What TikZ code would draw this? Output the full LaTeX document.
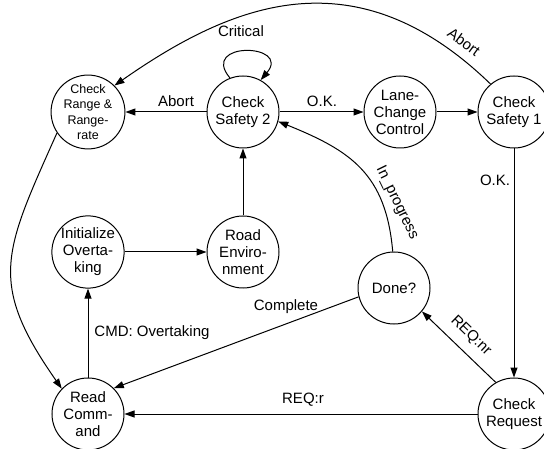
\documentclass[tikz,border=0pt]{standalone}
\usepackage{fontspec}
\setmainfont{Liberation Sans}
\usetikzlibrary{arrows.meta}
\begin{document}
\begin{tikzpicture}[x=1pt,y=1pt,
  st/.style={circle, draw, line width=1pt, minimum size=72pt, inner sep=0pt, align=center, font=\fontsize{15}{17}\selectfont},
  stsmall/.style={st, font=\fontsize{12.5}{15.5}\selectfont},
  lbl/.style={font=\fontsize{15}{17}\selectfont, inner sep=0pt},
  arr/.style={line width=1pt, -{Triangle[length=10pt,width=7pt]}}]
\useasboundingbox (0,0) rectangle (544,-449);
\node[stsmall] (CR) at (88,-112) {Check\\Range \&\\Range-\\rate};
\node[st] (CS2) at (243,-112) {Check\\Safety 2};
\node[st] (LCC) at (400,-112) {Lane-\\Change\\Control};
\node[st] (CS1) at (514,-112) {Check\\Safety 1};
\node[st] (INIT) at (88,-252) {Initialize\\Overta-\\king};
\node[st] (ROAD) at (243,-252) {Road\\Enviro-\\nment};
\node[st] (DONE) at (394,-288) {Done?};
\node[st] (RC) at (88,-414) {Read\\Comm-\\and};
\node[st] (REQ) at (514,-414) {Check\\Request};

\draw[arr] (CS2) -- (CR);
\draw[arr] (CS2) -- (LCC);
\draw[arr] (LCC) -- (CS1);
\draw[arr] (CS1) -- (REQ);
\draw[arr] (REQ) -- (RC);
\draw[arr] (RC) -- (INIT);
\draw[arr] (INIT) -- (ROAD);
\draw[arr] (ROAD) -- (CS2);
\draw[arr] (REQ.120) -- (DONE.-40);
\draw[arr] (DONE.194) -- (RC.45);
\draw[arr] (DONE.92) to[out=95,in=-22,looseness=1.15] (CS2.-15);
\draw[arr] (CS1.130) .. controls (354.5,47.9) and (230.6,-4.4) .. (CR.45);
\draw[arr] (CR.214) to[out=246,in=125,looseness=1.3] (RC.136);
\draw[arr] (CS2.111) to[out=130,in=50,looseness=4] (CS2.61);

\node[lbl] (lCrit) at (241,-31) {Critical};
\node[lbl] (lAbort1) at (176,-101) {Abort};
\node[lbl] (lOK1) at (322,-101) {O.K.};
\node[lbl, rotate=-36] (lAbort2) at (464,-42) {Abort};
\node[lbl] (lOK2) at (495,-180) {O.K.};
\node[lbl, rotate=-64] (lProg) at (397,-203) {In\_progress};
\node[lbl] (lComp) at (286,-307) {Complete};
\node[lbl, rotate=-44] (lnr) at (471,-336) {REQ:nr};
\node[lbl] (lr) at (303,-400) {REQ:r};
\node[lbl] (lcmd) at (152,-333) {CMD: Overtaking};
\end{tikzpicture}
\end{document}
